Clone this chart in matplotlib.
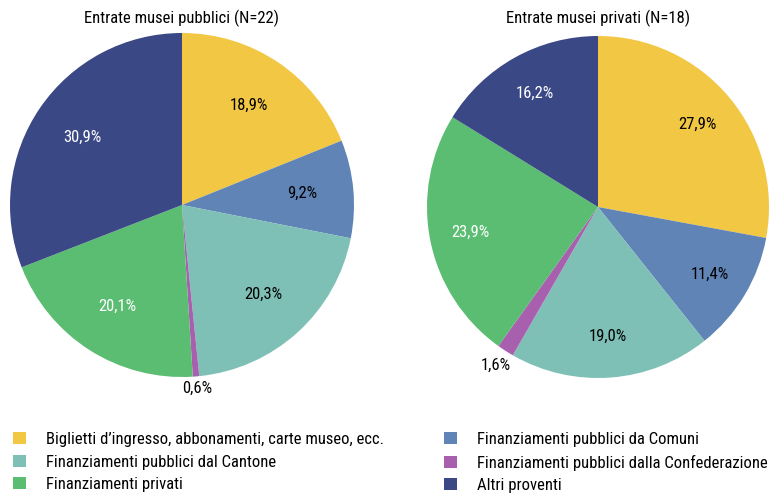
import numpy as np
import matplotlib
matplotlib.use('Agg')
import matplotlib.pyplot as plt
from matplotlib.patches import Patch
from matplotlib import font_manager

names = {f.name for f in font_manager.fontManager.ttflist}
fam = [n for n in ['Roboto Condensed', 'Liberation Sans Narrow', 'Liberation Sans'] if n in names]
plt.rcParams['font.family'] = fam + ['DejaVu Sans']
condensed = fam[0] != 'Liberation Sans'
fs = 12 if condensed else 10

categories = ["Biglietti d\u2019ingresso, abbonamenti, carte museo, ecc.",
              "Finanziamenti pubblici da Comuni",
              "Finanziamenti pubblici dal Cantone",
              "Finanziamenti pubblici dalla Confederazione",
              "Finanziamenti privati",
              "Altri proventi"]
colors = ['#F2C744', '#5F84B5', '#7EC0B6', '#A75FAE', '#5BBD72', '#3B4886']
text_colors = ['black', 'black', 'black', 'black', 'white', 'white']

pubblici = [18.9, 9.2, 20.3, 0.6, 20.1, 30.9]
privati = [27.9, 11.4, 19.0, 1.6, 23.9, 16.2]

fig = plt.figure(figsize=(7.79, 4.95), dpi=100)

def draw_pie(cx, cy, r, values, title, inner, outer):
    W, H = 779, 495
    ax = fig.add_axes([(cx - r) / W, (H - cy - r) / H, 2 * r / W, 2 * r / H])
    wedges, _ = ax.pie(values, colors=colors, startangle=90, counterclock=False,
                       wedgeprops=dict(linewidth=0))
    ax.set_xlim(-1, 1)
    ax.set_ylim(-1, 1)
    ax.set_aspect('equal')
    for w, v, tc in zip(wedges, values, text_colors):
        ang = np.deg2rad((w.theta1 + w.theta2) / 2)
        d = inner if v > 3 else outer
        col = tc if v > 3 else 'black'
        ax.text(d * np.cos(ang), d * np.sin(ang), f"{v:.1f}%".replace('.', ','),
                ha='center', va='center', fontsize=fs, color=col)
    fig.text(cx / W, 1 - 18 / H, title, ha='center', va='center', fontsize=fs)

draw_pie(182, 205, 172, pubblici, "Entrate musei pubblici (N=22)", 0.7, 1.07)
draw_pie(598, 207, 171, privati, "Entrate musei privati (N=18)", 0.76, 1.1)

handles = [Patch(facecolor=c, edgecolor='none') for c in colors]
order1 = [0, 2, 4]
order2 = [1, 3, 5]
for order, x in [(order1, 13 / 779), (order2, 444 / 779)]:
    fig.legend([handles[i] for i in order], [categories[i] for i in order],
               loc='upper left', bbox_to_anchor=(x, 1 - 432 / 495), frameon=False,
               fontsize=fs, handlelength=0.75, handleheight=0.75,
               handletextpad=1.2, labelspacing=0.45, borderaxespad=0, borderpad=0)

fig.savefig('out.png', dpi=100)
